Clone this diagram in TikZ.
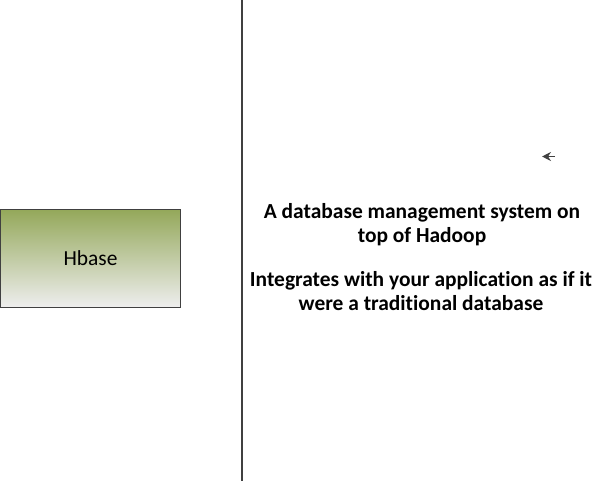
\documentclass[tikz,border=0pt]{standalone}
\usepackage{fontspec}
\setmainfont{Carlito}[Ligatures=NoCommon]
\usepackage{xcolor}
\usepackage{tikz}
\usetikzlibrary{arrows,arrows.meta,shapes,positioning}

\definecolor{hbgreen}{HTML}{94A85A}
\definecolor{hbgray}{HTML}{EEEEEE}
\definecolor{edgegray}{HTML}{404040}

\begin{document}
\begin{tikzpicture}[x=0.03cm,y=-0.03cm,
    hbbox/.style={draw=edgegray, line width=0.8pt, top color=hbgreen, bottom color=hbgray,
                  minimum width=180*0.03cm, minimum height=98*0.03cm, inner sep=0pt,
                  font=\fontsize{18.3}{20}\selectfont},
    bigtext/.style={align=center, font=\bfseries\fontsize{18.3}{20.5}\selectfont, inner sep=0pt}]
				\useasboundingbox (0,0) rectangle (599,483);
				
				\node [hbbox] (hbase) at (90.5,258.5) {Hbase};
				
				\draw [edgegray, line width=0.9pt] (242,0) -- (242,481);
				
				\node [bigtext] (what) at (422,225) {A database management system on\\top of Hadoop};
				\node [bigtext] (how) at (421,291) {Integrates with your application as if it\\were a traditional database};
				
				% small stray arrowhead
				\coordinate (tail) at (555,156.5);
				\coordinate (tip) at (542,156.5);
				\draw [edgegray, line width=0.8pt, -{Stealth[length=9*0.03cm,width=9*0.03cm,inset=3*0.03cm]}] (tail) -- (tip);
\end{tikzpicture}
\end{document}
